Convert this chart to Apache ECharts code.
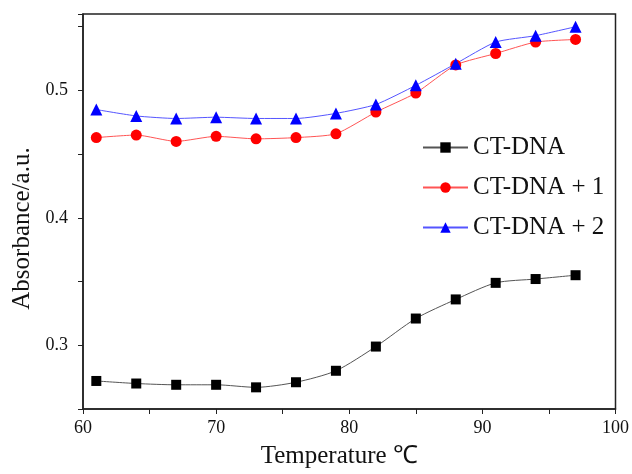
<!DOCTYPE html>
<html>
<head>
<meta charset="utf-8">
<script src="https://cdn.jsdelivr.net/npm/echarts@6/dist/echarts.min.js"></script>
<style>
  html, body { margin: 0; padding: 0; background: #fff; }
  #main { width: 632px; height: 474px; }
</style>
</head>
<body>
<div id="main"></div>
<script>
// temperature points (℃)
var temps = [61, 64, 67, 70, 73, 76, 79, 82, 85, 88, 91, 94, 97];
// absorbance
var ctDna  = [0.272, 0.270, 0.269, 0.269, 0.267, 0.271, 0.280, 0.299, 0.321, 0.336, 0.349, 0.352, 0.355];
var ctDna1 = [0.463, 0.465, 0.460, 0.464, 0.462, 0.463, 0.466, 0.483, 0.498, 0.520, 0.529, 0.538, 0.540];
var ctDna2 = [0.485, 0.480, 0.478, 0.479, 0.478, 0.478, 0.482, 0.489, 0.504, 0.521, 0.538, 0.543, 0.550];
var seriesNames = ["CT-DNA", "CT-DNA + 1", "CT-DNA + 2"];

function pairs(ys) {
  return temps.map(function (t, i) { return [t, ys[i]]; });
}

var font = "'Liberation Serif', 'Times New Roman', serif";
var myChart = echarts.init(document.getElementById("main"));

var option = {
  backgroundColor: "#fff",
  animation: false,
  grid: {
    left: 83, right: 16, top: 14, bottom: 64,
    show: true, borderColor: "#222", borderWidth: 1.5
  },
  legend: {
    orient: "vertical",
    left: 417,
    top: 130,
    itemWidth: 45,
    itemHeight: 13,
    itemGap: 15,
    textStyle: { fontFamily: font, fontSize: 25, color: "#111" },
    data: seriesNames
  },
  xAxis: {
    type: "value",
    min: 60, max: 100, interval: 5,
    name: "Temperature ℃",
    nameLocation: "middle",
    nameGap: 35,
    nameTextStyle: { fontFamily: font, fontSize: 25, color: "#111", padding: [0, 20, 0, 0] },
    axisLine: { lineStyle: { color: "#222", width: 1.5 } },
    axisTick: { inside: false, length: 5, lineStyle: { color: "#222" } },
    axisLabel: {
      fontFamily: font, fontSize: 18, color: "#111", margin: 10,
      formatter: function (v) { return v % 10 === 0 ? String(v) : ""; }
    },
    splitLine: { show: false }
  },
  yAxis: {
    type: "value",
    min: 0.25, max: 0.56, interval: 0.05,
    name: "Absorbance/a.u.",
    nameLocation: "middle",
    nameGap: 46,
    nameTextStyle: { fontFamily: font, fontSize: 25, color: "#111", padding: [0, 34, 0, 0] },
    axisLine: { show: true, lineStyle: { color: "#222", width: 1.5 } },
    axisTick: { show: true, inside: false, length: 5, lineStyle: { color: "#222" } },
    axisLabel: {
      fontFamily: font, fontSize: 18, color: "#111", margin: 15,
      formatter: function (v) {
        return Math.abs(v * 10 - Math.round(v * 10)) < 1e-6 ? v.toFixed(1) : "";
      }
    },
    splitLine: { show: false }
  },
  series: [
    {
      name: seriesNames[0], type: "line", data: pairs(ctDna),
      smooth: 0.25, symbol: "rect", symbolSize: 10,
      itemStyle: { color: "#000" },
      lineStyle: { color: "#555", width: 1 }
    },
    {
      name: seriesNames[1], type: "line", data: pairs(ctDna1),
      smooth: 0.2, symbol: "circle", symbolSize: 11,
      itemStyle: { color: "#ff0000" },
      lineStyle: { color: "#ff5555", width: 1 }
    },
    {
      name: seriesNames[2], type: "line", data: pairs(ctDna2),
      smooth: 0.2, symbol: "triangle", symbolSize: 12,
      itemStyle: { color: "#0000ff" },
      lineStyle: { color: "#5555ff", width: 1 }
    }
  ]
};

option && myChart.setOption(option);
</script>
</body>
</html>
